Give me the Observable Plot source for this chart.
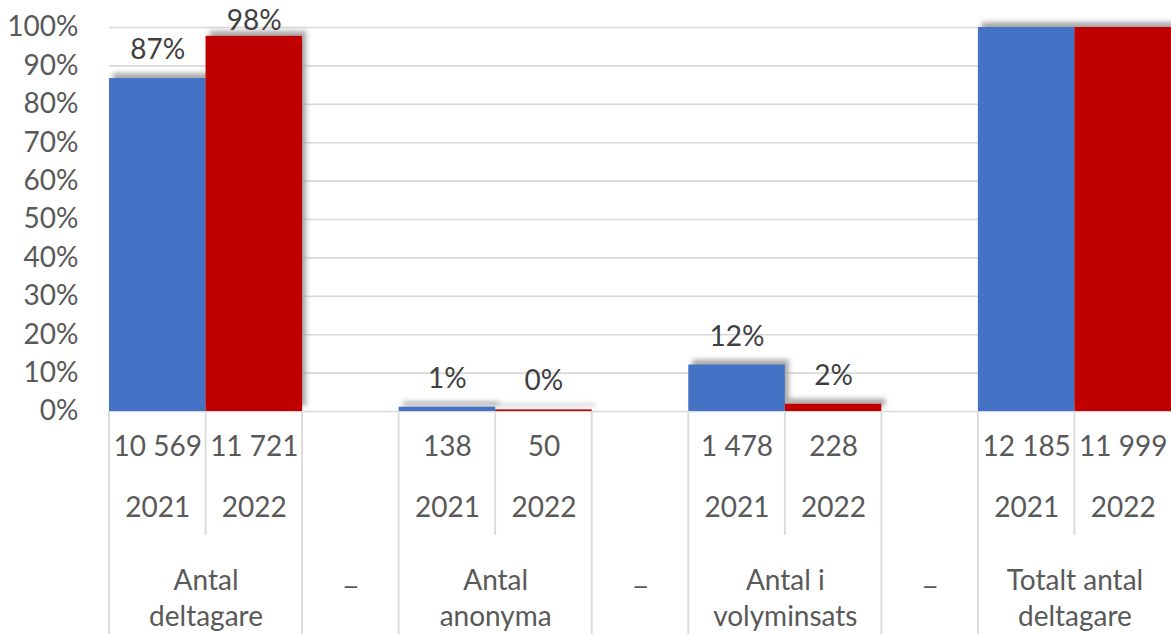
<!DOCTYPE html>
<html>
<head>
<meta charset="utf-8">
<script src="https://cdn.jsdelivr.net/npm/d3@7"></script>
<script src="https://cdn.jsdelivr.net/npm/@observablehq/plot@0.6"></script>
<style>
  html, body { margin: 0; padding: 0; background: #fff; }
  #chart { width: 1171px; height: 634px; }
</style>
</head>
<body>
<div id="chart"></div>
<script>
// ---- data ----
const groups = ["Antal deltagare", "Antal anonyma", "Antal i volyminsats", "Totalt antal deltagare"];
const groupLabels = ["Antal\ndeltagare", "Antal\nanonyma", "Antal i\nvolyminsats", "Totalt antal\ndeltagare"];
const years = ["2021", "2022"];
const share2021 = [0.867, 0.0113, 0.121, 1.0];
const share2022 = [0.977, 0.0042, 0.019, 1.0];
const count2021 = ["10 569", "138", "1 478", "12 185"];
const count2022 = ["11 721", "50", "228", "11 999"];
const showLabel = [true, true, true, false];
const spacerLabel = "_";
const yTicks = [0, 0.1, 0.2, 0.3, 0.4, 0.5, 0.6, 0.7, 0.8, 0.9, 1.0];
const colors = ["#4472C4", "#C00000"];

// slot layout: each group takes two slots, with one spacer slot between groups
const slotsPerGroup = 3;
const nSlots = groups.length * slotsPerGroup - 1;

const rows = groups.flatMap((g, i) => years.map((yr, j) => ({
  group: g,
  year: yr,
  slot: i * slotsPerGroup + j,
  share: j === 0 ? share2021[i] : share2022[i],
  count: j === 0 ? count2021[i] : count2022[i],
  show: showLabel[i]
})));
const groupRows = groups.map((g, i) => ({group: g, label: groupLabels[i], center: i * slotsPerGroup + 1}));
const spacerRows = groups.slice(0, -1).map((g, i) => ({center: i * slotsPerGroup + 2.5, label: spacerLabel}));

const pct = d3.format(".0%");
const FONT = 28;

const chart = Plot.plot({
  width: 1171,
  height: 634,
  marginLeft: 109,
  marginRight: 0,
  marginTop: 27,
  marginBottom: 223,
  style: {fontFamily: "Lato, 'Open Sans', sans-serif", fontSize: FONT + "px", color: "#595959", background: "#fff", overflow: "visible"},
  x: {domain: [0, nSlots], axis: null},
  y: {domain: [0, 1], ticks: yTicks, tickFormat: pct, tickSize: 0, tickPadding: 31, label: null},
  color: {domain: years, range: colors},
  marks: [
    Plot.gridY(yTicks, {stroke: "#d9d9d9", strokeOpacity: 1, strokeWidth: 1.6}),
    Plot.rect(rows, {x1: "slot", x2: d => d.slot + 1, y1: 0, y2: "share", fill: "#8c8c8c", fillOpacity: 0.75, dx: 4, dy: -5, ariaDescription: "shadow"}),
    Plot.rect(rows, {x1: "slot", x2: d => d.slot + 1, y1: 0, y2: "share", fill: "year"}),
    Plot.text(rows.filter(d => d.show), {x: d => d.slot + 0.5, y: d => Math.min(d.share + 0.074, 1.018), text: d => pct(d.share), fill: "#404040", fontSize: FONT}),
    Plot.text(rows, {x: d => d.slot + 0.5, frameAnchor: "bottom", dy: 44, text: "count", fill: "#595959", fontSize: FONT}),
    Plot.text(rows, {x: d => d.slot + 0.5, frameAnchor: "bottom", dy: 105, text: "year", fill: "#595959", fontSize: FONT}),
    Plot.text(groupRows, {x: "center", frameAnchor: "bottom", dy: 185, text: "label", lineAnchor: "middle", lineHeight: 1.29, fill: "#595959", fontSize: FONT}),
    Plot.text(spacerRows, {x: "center", frameAnchor: "bottom", dy: 172, text: "label", fill: "#595959", fontSize: FONT, fontFamily: "'Open Sans', sans-serif"})
  ]
});

// soft blur for the bar shadows
const svg = d3.select(chart.tagName.toLowerCase() === "svg" ? chart : chart.querySelector("svg"));
const defs = svg.insert("defs", ":first-child");
defs.append("filter").attr("id", "shadowBlur").attr("x", "-20%").attr("y", "-20%").attr("width", "140%").attr("height", "140%")
  .append("feGaussianBlur").attr("stdDeviation", 2.5);
svg.selectAll('g[aria-description="shadow"]').attr("filter", "url(#shadowBlur)");

// category table lines below the plot, positioned with Plot's x scale
const xs = chart.scale("x");
const x = v => xs.apply(v);
const y0 = 411, yShort = 535, yEnd = 634;
const tableLines = [];
tableLines.push({v: 0, y2: yEnd});
for (let i = 0; i < groups.length; i++) {
  const s = i * slotsPerGroup;
  tableLines.push({v: s + 1, y2: yShort});
  if (i > 0) tableLines.push({v: s, y2: yEnd});
  if (i < groups.length - 1) tableLines.push({v: s + 2, y2: yEnd});
}
svg.append("g").selectAll("line").data(tableLines).join("line")
  .attr("x1", d => x(d.v)).attr("x2", d => x(d.v))
  .attr("y1", y0).attr("y2", d => d.y2)
  .attr("stroke", "#d9d9d9").attr("stroke-width", 1.8);

document.getElementById("chart").appendChild(chart);
</script>
</body>
</html>
